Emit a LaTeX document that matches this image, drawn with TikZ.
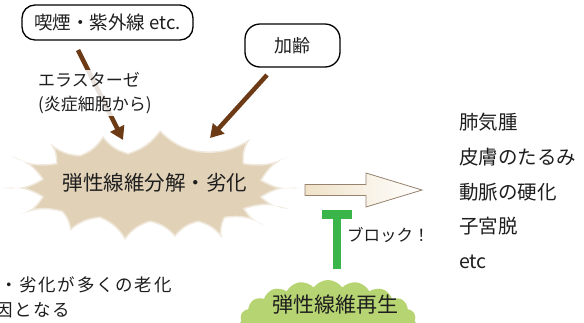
\documentclass[tikz,border=0pt]{standalone}
\usepackage{fontspec}
\setmainfont{Noto Sans CJK JP}
\usetikzlibrary{arrows.meta,calc,shapes.symbols}
\definecolor{brn}{RGB}{108,58,20}
\definecolor{beige}{RGB}{225,209,183}
\definecolor{grn}{RGB}{57,181,74}
\definecolor{lgrn}{RGB}{183,212,115}
\definecolor{txt}{RGB}{30,30,30}
\definecolor{harrow}{RGB}{150,130,110}
\definecolor{cream}{RGB}{240,226,200}
\def\burstpath{(103,136) to[bend right=18] (128,153) to[bend right=18] (160,130)
 to[bend right=18] (200,151) to[bend right=18] (250,139) to[bend right=18] (244,163)
 to[bend right=18] (289,156) to[bend right=18] (262,180) to[bend right=18] (300,188)
 to[bend right=18] (262,197) to[bend right=18] (289,209) to[bend right=18] (245,209)
 to[bend right=18] (264,225) to[bend right=18] (225,218) to[bend right=18] (222,238)
 to[bend right=18] (198,222) to[bend right=18] (175,237) to[bend right=18] (150,222)
 to[bend right=18] (125,240) to[bend right=18] (100,218) to[bend right=18] (70,231)
 to[bend right=18] (62,212) to[bend right=18] (22,214) to[bend right=18] (42,197)
 to[bend right=18] (3,188) to[bend right=18] (42,179) to[bend right=18] (11,156)
 to[bend right=18] (56,163) to[bend right=18] (50,143) to[bend right=18] (80,155)
 to[bend right=18] (103,136) -- cycle}
\begin{document}
\begin{tikzpicture}[x=1pt,y=-1pt,
 rbox/.style={draw=black, line width=1.3pt, fill=white, inner sep=0pt, text=txt},
 brarrow/.style={draw=brn, line width=4.5pt, -{Triangle[width=15pt,length=13pt]}},
 lbl/.style={text=txt, inner sep=0pt},
 item/.style={lbl, anchor=base west, font=\fontsize{19.5}{22}\selectfont}
]
\useasboundingbox (0,0) rectangle (584,322);
\clip (0,0) rectangle (584,322);
\fill[white] (0,0) rectangle (584,322);

% explosion
\fill[beige] \burstpath;
\draw[white, line width=3pt, draw opacity=0.5] \burstpath;
\node[lbl, font=\fontsize{20.5}{24}\selectfont] (burst) at (155,182.5) {弾性線維分解・劣化};

% boxes
\node[rbox, rounded corners=13pt, minimum width=171pt, minimum height=35pt] (smoke) at (107.5,22.5) {\fontsize{18.5}{20}\selectfont 喫煙・紫外線 etc.};
\node[rbox, rounded corners=15pt, minimum width=95pt, minimum height=43pt] (age) at (292.5,45.5) {\fontsize{18}{20}\selectfont 加齢};

% brown arrows
\coordinate (a1s) at (78,50); \coordinate (a1e) at (123,140);
\draw[brarrow] (a1s) -- (a1e);
\coordinate (a2s) at (267,75); \coordinate (a2e) at (210,138);
\draw[brarrow] (a2s) -- (a2e);

\node[lbl, fill=white, fill opacity=0.85, text opacity=1, align=left, anchor=west, inner sep=2pt,
  font=\fontsize{17}{24}\selectfont] (elast) at (36,93) {エラスターゼ\\(炎症細胞から)};

% hollow arrow
\path[draw=harrow, line width=0.8pt, left color=cream, right color=white]
  (305,184.5) -- (366,184.5) -- (366,173) -- (422,190) -- (366,207) -- (366,195.5) -- (305,195.5) -- cycle;

% green block
\node[cloud, cloud puffs=19, cloud puff arc=110, aspect=2.6, fill=lgrn, minimum width=178pt, minimum height=88pt, inner sep=0pt] (regencloud) at (328,324) {};
\node[lbl, font=\fontsize{21}{24}\selectfont] (regen) at (335,305) {弾性線維再生};
\coordinate (tb) at (337,269); \coordinate (tt) at (337,210);
\draw[grn, line width=8.5pt, -{Rectangle[width=30pt,length=9pt]}] (tb) -- (tt);
\node[lbl, anchor=west, font=\fontsize{16.5}{20}\selectfont] (block) at (347,235) {ブロック！};

% list
\node[item] (l1) at (459,129.5) {肺気腫};
\node[item] (l2) at (459,164.3) {皮膚のたるみ};
\node[item] (l3) at (459,199.1) {動脈の硬化};
\node[item] (l4) at (459,233.9) {子宮脱};
\node[item] (l5) at (459,268.7) {etc};

% bottom-left note
\node[lbl, anchor=base west, font=\fontsize{17.5}{20}\selectfont\addfontfeature{LetterSpace=10}] (note1) at (0,291) {・劣化が多くの老化};
\node[lbl, anchor=base west, font=\fontsize{17.5}{20}\selectfont\addfontfeature{LetterSpace=10}] (note2) at (-5,316) {因となる};
\end{tikzpicture}
\end{document}
